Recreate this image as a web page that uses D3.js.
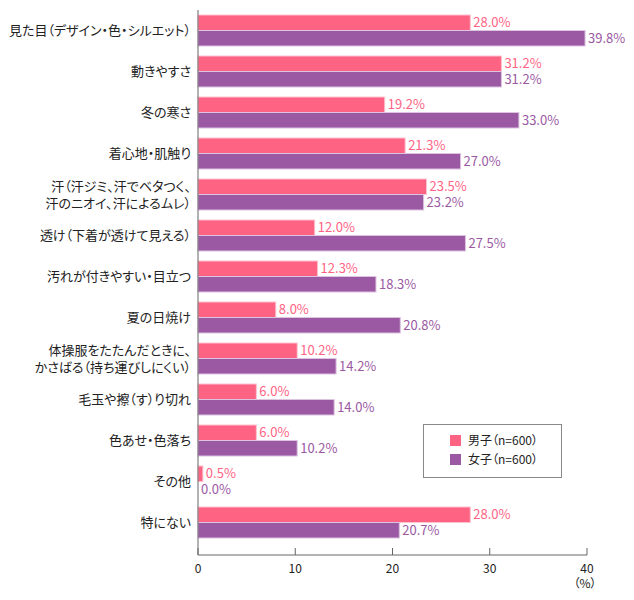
<!DOCTYPE html>
<html>
<head>
<meta charset="utf-8">
<script src="https://cdn.jsdelivr.net/npm/d3@7"></script>
<style>
  body { margin: 0; background: #fff; }
  svg { display: block; font-family: "Noto Sans CJK JP", "Noto Sans", sans-serif; }
  .cat, .leg { font-feature-settings: "palt"; }
</style>
</head>
<body>
<svg id="chart"></svg>
<script>
// categories (each entry = label lines)
const categories = [
  ['見た目（デザイン・色・シルエット）'],
  ['動きやすさ'],
  ['冬の寒さ'],
  ['着心地・肌触り'],
  ['汗（汗ジミ、汗でベタつく、', '汗のニオイ、汗によるムレ）'],
  ['透け（下着が透けて見える）'],
  ['汚れが付きやすい・目立つ'],
  ['夏の日焼け'],
  ['体操服をたたんだときに、', 'かさばる（持ち運びしにくい）'],
  ['毛玉や擦（す）り切れ'],
  ['色あせ・色落ち'],
  ['その他'],
  ['特にない']
];
const maleValues = [28.0, 31.2, 19.2, 21.3, 23.5, 12.0, 12.3, 8.0, 10.2, 6.0, 6.0, 0.5, 28.0];
const femaleValues = [39.8, 31.2, 33.0, 27.0, 23.2, 27.5, 18.3, 20.8, 14.2, 14.0, 10.2, 0.0, 20.7];
const seriesNames = ['男子（n=600）', '女子（n=600）'];
const xTicks = [0, 10, 20, 30, 40];

const width = 634, height = 600;
const colors = ['#ff6384', '#9b59a3'];
const strokes = ['#ffc2cf', '#dcc3e0'];

const svg = d3.select('#chart').attr('width', width).attr('height', height);

const x = d3.scaleLinear().domain([0, 40]).range([198, 587]);
const y = d3.scaleBand().domain(d3.range(categories.length)).range([10, 543]);
const barH = 15.5;

// bars
const series = [maleValues, femaleValues];
series.forEach((vals, s) => {
  const g = svg.append('g');
  g.selectAll('rect')
    .data(vals)
    .enter().append('rect')
    .attr('x', x(0))
    .attr('y', (d, i) => y(i) + y.bandwidth() / 2 - (s === 0 ? barH : 0))
    .attr('width', d => x(d) - x(0))
    .attr('height', barH)
    .attr('fill', colors[s])
    .attr('stroke', d => d > 0 ? strokes[s] : 'none')
    .attr('stroke-width', 1);

  g.selectAll('text')
    .data(vals)
    .enter().append('text')
    .attr('x', d => x(d) + 3)
    .attr('y', (d, i) => y(i) + y.bandwidth() / 2 + (s === 0 ? -barH / 2 : barH / 2))
    .attr('dy', '0.36em')
    .attr('fill', colors[s])
    .style('font-size', '13px')
    .text(d => d.toFixed(1) + '%');
});

// category labels
const labels = svg.append('g')
  .selectAll('text')
  .data(categories)
  .enter().append('text')
  .attr('class', 'cat')
  .attr('text-anchor', 'end')
  .style('font-size', '13px')
  .attr('fill', '#222')
  .attr('transform', (d, i) => `translate(191, ${y(i) + y.bandwidth() / 2})`);
labels.each(function (lines) {
  const t = d3.select(this);
  const off = -(lines.length - 1) * 17 / 2;
  lines.forEach((ln, k) => {
    t.append('tspan').attr('x', 0).attr('y', off + k * 17).attr('dy', '0.36em').text(ln);
  });
});

// axis lines
svg.append('line')
  .attr('x1', x(0)).attr('x2', x(0)).attr('y1', 10).attr('y2', 555)
  .attr('stroke', '#666');
svg.append('line')
  .attr('x1', x(0)).attr('x2', x(40)).attr('y1', 555).attr('y2', 555)
  .attr('stroke', '#666');
const ticks = svg.append('g');
ticks.selectAll('line')
  .data(xTicks)
  .enter().append('line')
  .attr('x1', d => x(d)).attr('x2', d => x(d))
  .attr('y1', 548).attr('y2', 555)
  .attr('stroke', '#666');
ticks.selectAll('text')
  .data(xTicks)
  .enter().append('text')
  .attr('x', d => x(d))
  .attr('y', 569)
  .attr('dy', '0.36em')
  .attr('text-anchor', 'middle')
  .style('font-size', '12px')
  .attr('fill', '#222')
  .text(d => d);
svg.append('text')
  .attr('class', 'leg')
  .attr('x', x(40) - 2).attr('y', 584).attr('dy', '0.36em')
  .attr('text-anchor', 'middle')
  .style('font-size', '12px')
  .attr('fill', '#222')
  .text('（%）');

// legend
const legend = svg.append('g');
legend.append('rect')
  .attr('x', 423.5).attr('y', 424.5).attr('width', 138).attr('height', 53)
  .attr('fill', '#fff').attr('stroke', '#888');
seriesNames.forEach((name, i) => {
  legend.append('rect')
    .attr('x', 450).attr('y', 435 + i * 19).attr('width', 11).attr('height', 11)
    .attr('fill', colors[i]);
  legend.append('text')
    .attr('class', 'leg')
    .attr('x', 468).attr('y', 441 + i * 19).attr('dy', '0.36em')
    .style('font-size', '12px')
    .attr('fill', '#222')
    .text(name);
});
</script>
</body>
</html>
